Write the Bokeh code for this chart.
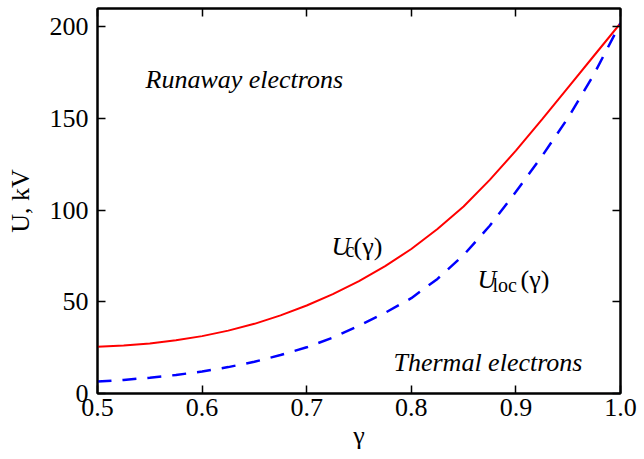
from bokeh.plotting import figure
from bokeh.models import Range1d, FixedTicker, LinearAxis, Label
from bokeh.embed import file_html
from bokeh.resources import INLINE

# ---- data ----
gamma = [0.5, 0.525, 0.55, 0.575, 0.6, 0.625, 0.65, 0.675, 0.7, 0.725, 0.75,
         0.775, 0.8, 0.825, 0.85, 0.875, 0.9, 0.925, 0.95, 0.975, 1.0]
u_c = [25.5, 26.2, 27.3, 29.0, 31.3, 34.3, 38.0, 42.6, 48.0, 54.2, 61.3,
       69.5, 78.8, 89.7, 102.0, 116.5, 132.5, 149.5, 167.0, 184.5, 202.0]
u_loc = [6.5, 7.4, 8.6, 10.1, 12.0, 14.4, 17.3, 21.0, 25.2, 30.5, 37.0,
         44.0, 52.0, 62.5, 75.5, 91.5, 110.0, 129.5, 150.5, 174.5, 202.0]

x_ticks = [0.5, 0.6, 0.7, 0.8, 0.9, 1.0]
x_tick_labels = ["0.5", "0.6", "0.7", "0.8", "0.9", "1.0"]
y_ticks = [0, 50, 100, 150, 200]
y_tick_labels = ["0", "50", "100", "150", "200"]

FONT = "Liberation Serif"
FS = "26px"
SUB = "20px"

p = figure(width=644, height=459, output_backend="svg", toolbar_location=None,
           x_range=Range1d(0.5, 1.0), y_range=Range1d(0, 210),
           x_axis_label="γ", y_axis_label="U, kV",
           min_border_left=97, min_border_right=24,
           min_border_top=8, min_border_bottom=66)
p.background_fill_color = "white"
p.border_fill_color = "white"
p.outline_line_color = "black"
p.outline_line_width = 2
p.xgrid.visible = False
p.ygrid.visible = False

p.line(gamma, u_c, line_color="#ff0000", line_width=2)
p.line(gamma, u_loc, line_color="#0000ff", line_width=2.5, line_dash="14 11")

def style_axis(ax, ticks, labels, show_labels=True):
    ax.ticker = FixedTicker(ticks=ticks)
    ax.minor_tick_line_color = None
    ax.major_tick_in = 8
    ax.major_tick_out = 0
    ax.major_tick_line_width = 1.5
    ax.major_tick_line_color = "black"
    ax.axis_line_width = 2
    ax.axis_line_color = "black"
    ax.major_label_text_font = FONT
    if show_labels:
        ax.major_label_overrides = {t: l for t, l in zip(ticks, labels)}
        ax.major_label_text_font_size = FS
        ax.major_label_text_color = "black"
    else:
        ax.major_label_text_font_size = "0px"
        ax.major_label_text_color = None
        ax.major_label_standoff = 0
    ax.axis_label_text_font = FONT
    ax.axis_label_text_font_size = FS
    ax.axis_label_text_font_style = "normal"
    ax.axis_label_text_color = "black"

style_axis(p.xaxis[0], x_ticks, x_tick_labels)
style_axis(p.yaxis[0], y_ticks, y_tick_labels)
p.xaxis[0].major_label_standoff = 5
p.yaxis[0].major_label_standoff = 9
p.xaxis[0].axis_label_standoff = 2
p.yaxis[0].axis_label_standoff = 12

top = LinearAxis()
style_axis(top, x_ticks, x_tick_labels, show_labels=False)
p.add_layout(top, "above")
right = LinearAxis()
style_axis(right, y_ticks, y_tick_labels, show_labels=False)
p.add_layout(right, "right")

def lab(x, y, text, size=FS, style="normal"):
    p.add_layout(Label(x=x, y=y, x_units="screen", y_units="screen", text=text,
                       text_font=FONT, text_font_size=size, text_font_style=style,
                       text_color="black", text_align="left",
                       text_baseline="alphabetic"))

# region labels (frame-relative screen coords)
lab(48, 314, "Runaway electrons", style="italic")
lab(296, 31, "Thermal electrons", style="italic")

# curve labels
lab(234, 147, "U", style="italic")
lab(248, 144, "c", size=SUB)
lab(256, 147, "(γ)")
lab(380, 114, "U", style="italic")
lab(395, 109, "loc", size=SUB)
lab(423, 114, "(γ)")

open("out.html", "w").write(file_html(p, INLINE))
